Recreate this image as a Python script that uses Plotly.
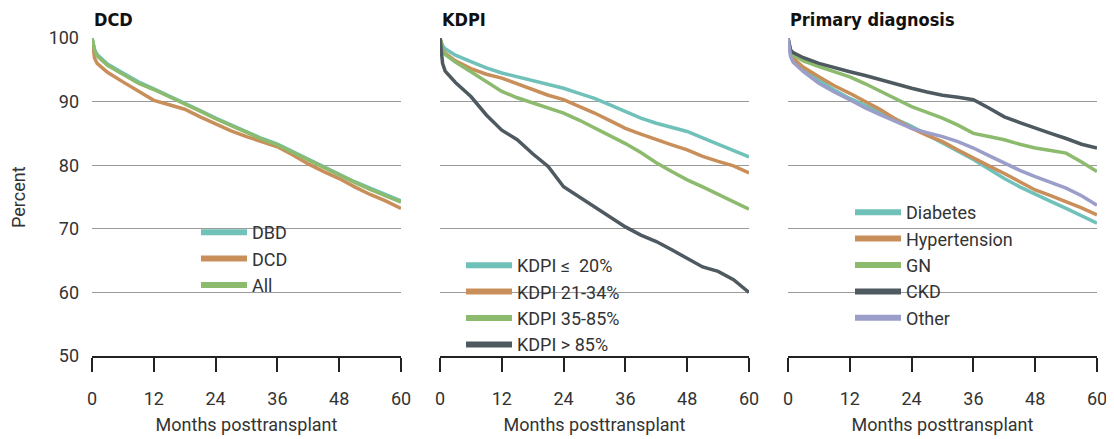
import plotly.graph_objects as go

months = [0, 0.5, 1, 3, 6, 9, 12, 15, 18, 21, 24, 27, 30, 33, 36, 39, 42, 45, 48, 51, 54, 57, 60]

# Panel 1: DCD
dbd = [100, 98.2, 97.4, 95.9, 94.5, 93.1, 92.0, 90.9, 89.8, 88.6, 87.4, 86.3, 85.2, 84.2, 83.3, 82.1, 80.9, 79.7, 78.6, 77.4, 76.4, 75.4, 74.4]
dcd = [100, 96.8, 96.0, 94.6, 93.1, 91.6, 90.2, 89.5, 88.8, 87.6, 86.5, 85.4, 84.5, 83.7, 82.9, 81.6, 80.2, 79.0, 77.9, 76.6, 75.4, 74.4, 73.2]
all_ = [100, 98.0, 97.2, 95.7, 94.3, 92.9, 91.9, 90.8, 89.7, 88.5, 87.3, 86.2, 85.1, 84.1, 83.2, 82.0, 80.8, 79.6, 78.5, 77.3, 76.2, 75.2, 74.2]

# Panel 2: KDPI
kdpi_le20 = [100, 98.8, 98.3, 97.3, 96.3, 95.3, 94.5, 93.9, 93.2, 92.6, 92.1, 91.3, 90.5, 89.5, 88.4, 87.4, 86.6, 86.0, 85.3, 84.3, 83.3, 82.3, 81.3]
kdpi_21_34 = [100, 98.2, 97.6, 96.4, 95.2, 94.3, 93.7, 92.8, 91.8, 91.0, 90.3, 89.3, 88.2, 87.0, 85.8, 84.9, 84.0, 83.2, 82.4, 81.4, 80.6, 79.9, 78.8]
kdpi_35_85 = [100, 98.0, 97.4, 96.2, 94.7, 93.1, 91.6, 90.6, 89.8, 89.0, 88.2, 87.1, 85.9, 84.7, 83.4, 82.0, 80.4, 79.0, 77.7, 76.6, 75.4, 74.3, 73.1]
kdpi_gt85 = [100, 96.0, 94.8, 93.0, 90.8, 87.9, 85.5, 84.0, 81.8, 79.8, 76.6, 75.0, 73.5, 71.9, 70.3, 69.0, 68.0, 66.7, 65.4, 64.0, 63.3, 62.0, 60.0]

# Panel 3: Primary diagnosis
diabetes = [100, 97.5, 96.5, 95.0, 93.4, 91.8, 90.5, 89.4, 88.4, 87.2, 86.1, 84.8, 83.5, 82.2, 80.9, 79.4, 77.9, 76.6, 75.4, 74.3, 73.2, 72.1, 70.9]
hypertension = [100, 97.7, 96.8, 95.4, 93.9, 92.5, 91.3, 90.0, 88.7, 87.2, 85.8, 84.7, 83.7, 82.4, 81.1, 79.9, 78.7, 77.4, 76.1, 75.2, 74.3, 73.3, 72.2]
gn = [100, 98.0, 97.3, 96.4, 95.5, 94.7, 93.9, 92.8, 91.6, 90.4, 89.2, 88.3, 87.4, 86.3, 85.0, 84.5, 84.0, 83.3, 82.7, 82.3, 81.9, 80.5, 79.0]
ckd = [100, 98.1, 97.7, 96.9, 96.0, 95.3, 94.7, 94.1, 93.4, 92.7, 92.1, 91.5, 91.0, 90.7, 90.3, 89.0, 87.6, 86.7, 85.8, 85.0, 84.2, 83.3, 82.7]
other = [100, 97.1, 96.2, 94.7, 92.9, 91.5, 90.3, 89.0, 87.9, 86.9, 85.8, 85.1, 84.5, 83.7, 82.7, 81.5, 80.3, 79.2, 78.2, 77.3, 76.4, 75.2, 73.7]

panel_titles = ["DCD", "KDPI", "Primary diagnosis"]
x_ticks = [0, 12, 24, 36, 48, 60]
y_ticks = [50, 60, 70, 80, 90, 100]

TEAL = "#6fc1b9"
ORANGE = "#c98f5a"
GREEN = "#8dbb6e"
DARK = "#4e5a60"
LAV = "#9a9ec9"

panels = [
    [("DBD", dbd, TEAL), ("DCD", dcd, ORANGE), ("All", all_, GREEN)],
    [("KDPI \u2264  20%", kdpi_le20, TEAL), ("KDPI 21-34%", kdpi_21_34, ORANGE),
     ("KDPI 35-85%", kdpi_35_85, GREEN), ("KDPI > 85%", kdpi_gt85, DARK)],
    [("Diabetes", diabetes, TEAL), ("Hypertension", hypertension, ORANGE),
     ("GN", gn, GREEN), ("CKD", ckd, DARK), ("Other", other, LAV)],
]

# page has an 8px body margin at top/left; figure fills the rest of the window
OFF = 8
W, H = 1114 - OFF, 439 - OFF
FONT = "Roboto, Lato, sans-serif"
TITLE_FONT = "Liberation Sans Narrow, DejaVu Sans Condensed, Roboto"

def px(xr):
    return (xr - OFF) / W

def py(yr):
    return 1 - (yr - OFF) / H

# geometry in window pixels
x_dom_px = [(92, 401), (440, 749), (788, 1097)]
y_top, y_bot = 38, 356
legend_px = [(196, 214), (461, 247), (850, 194)]  # left x, top y

fig = go.Figure()
layout = dict(
    template="none",
    width=W, height=H, margin=dict(l=0, r=0, t=0, b=0, autoexpand=False),
    paper_bgcolor="white", plot_bgcolor="white",
    font=dict(family=FONT, size=18, color="#333333"),
    annotations=[], showlegend=True,
)

for i, series in enumerate(panels):
    ax = "" if i == 0 else str(i + 1)
    lg = "legend" if i == 0 else f"legend{i + 1}"
    for name, vals, col in series:
        fig.add_trace(go.Scatter(
            x=months, y=vals, mode="lines", name=name,
            line=dict(color=col, width=3.5), showlegend=False,
            xaxis="x" + ax, yaxis="y" + ax, cliponaxis=False,
            hoverinfo="skip",
        ))
    for name, vals, col in series:
        fig.add_trace(go.Scatter(
            x=[None], y=[None], mode="lines", name=name,
            line=dict(color=col, width=6), showlegend=True,
            xaxis="x" + ax, yaxis="y" + ax, legend=lg, legendgroup=f"{i}{name}",
        ))
    x0, x1 = x_dom_px[i]
    layout["xaxis" + ax] = dict(
        domain=[px(x0), px(x1)], range=[0, 60], tickvals=x_ticks,
        showline=True, linecolor="#222222", linewidth=1.5,
        ticks="outside", ticklen=14, tickwidth=1.5, tickcolor="#222222",
        showgrid=False, zeroline=False, anchor="y" + ax, automargin=False,
        tickfont=dict(size=18, color="#333333"), ticklabelstandoff=12,
        ticklabeloverflow="allow",
        title=dict(text="Months posttransplant", font=dict(size=18, color="#333333"), standoff=10),
        fixedrange=True,
    )
    layout["yaxis" + ax] = dict(
        domain=[py(y_bot), py(y_top)], range=[50, 100], tickvals=y_ticks,
        showgrid=True, gridcolor="#9a9a9a", gridwidth=1, zeroline=False,
        showline=False, ticks="", showticklabels=(i == 0), automargin=False,
        ticklabelstandoff=12,
        tickfont=dict(size=18, color="#333333"), anchor="x" + ax, fixedrange=True,
    )
    lx, ly = legend_px[i]
    layout[lg] = dict(
        x=px(lx), y=py(ly), xanchor="left", yanchor="top",
        bgcolor="rgba(0,0,0,0)", borderwidth=0, itemwidth=46,
        font=dict(size=18, color="#333333", family=FONT),
        tracegroupgap=0, itemclick=False, itemdoubleclick=False,
    )
    layout["annotations"].append(dict(
        text=f"<b>{panel_titles[i]}</b>", x=px(x0), y=py(20),
        xref="paper", yref="paper", xanchor="left", yanchor="middle",
        showarrow=False, font=dict(family=TITLE_FONT, size=18, color="#111111"),
    ))

layout["annotations"].append(dict(
    text="Percent", x=px(18), y=py(197), xref="paper", yref="paper",
    xanchor="center", yanchor="middle", textangle=-90, showarrow=False,
    font=dict(size=18, color="#333333"),
))

fig.update_layout(**layout)
fig.write_html("out.html")
